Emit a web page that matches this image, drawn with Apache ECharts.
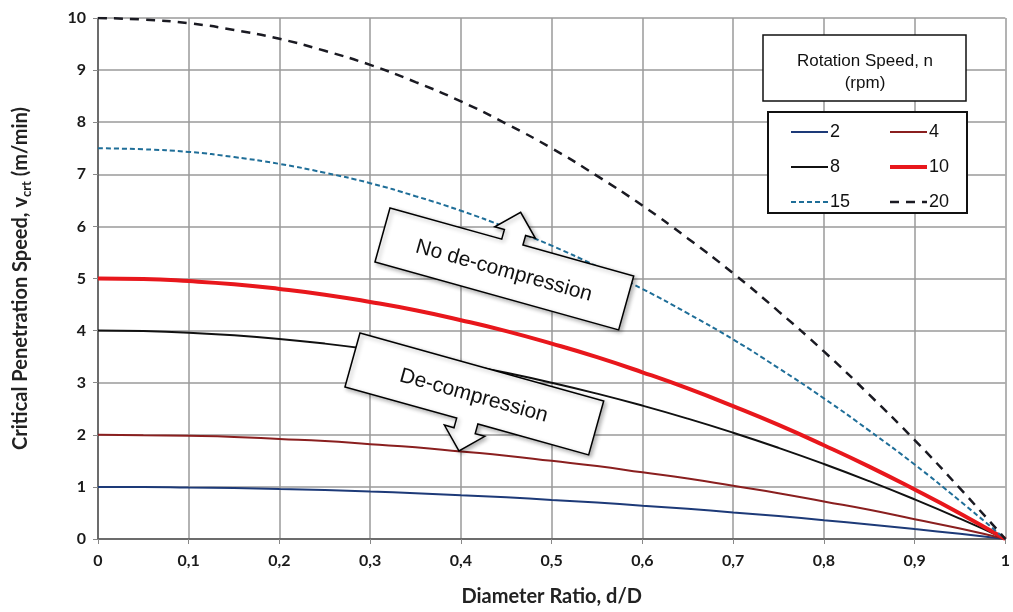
<!DOCTYPE html>
<html>
<head>
<meta charset="utf-8">
<script src="https://cdn.jsdelivr.net/npm/echarts@6/dist/echarts.min.js"></script>
<style>
  html, body { margin: 0; padding: 0; background: #fff; }
  #chart { width: 1013px; height: 612px; }
</style>
</head>
<body>
<div id="chart"></div>
<script>
// Diameter ratio d/D sampled along the x axis
const ratios = [0, 0.05, 0.1, 0.15, 0.2, 0.25, 0.3, 0.35, 0.4, 0.45, 0.5,
                0.55, 0.6, 0.65, 0.7, 0.75, 0.8, 0.85, 0.9, 0.95, 1];

// Critical penetration speed (m/min) for each rotation speed n (rpm)
const speedN2  = [1.00, 1.00, 0.99, 0.98, 0.96, 0.94, 0.91, 0.88, 0.84, 0.80, 0.75,
                  0.70, 0.64, 0.58, 0.51, 0.44, 0.36, 0.28, 0.19, 0.10, 0];
const speedN4  = [2.00, 1.99, 1.98, 1.96, 1.92, 1.88, 1.82, 1.76, 1.68, 1.60, 1.50,
                  1.40, 1.28, 1.16, 1.02, 0.88, 0.72, 0.56, 0.38, 0.20, 0];
const speedN8  = [4.00, 3.99, 3.96, 3.91, 3.84, 3.75, 3.64, 3.51, 3.36, 3.19, 3.00,
                  2.79, 2.56, 2.31, 2.04, 1.75, 1.44, 1.11, 0.76, 0.39, 0];
const speedN10 = [5.00, 4.99, 4.95, 4.89, 4.80, 4.69, 4.55, 4.39, 4.20, 3.99, 3.75,
                  3.49, 3.20, 2.89, 2.55, 2.19, 1.80, 1.39, 0.95, 0.49, 0];
const speedN15 = [7.50, 7.48, 7.43, 7.33, 7.20, 7.03, 6.83, 6.58, 6.30, 5.98, 5.63,
                  5.23, 4.80, 4.33, 3.83, 3.28, 2.70, 2.08, 1.43, 0.73, 0];
const speedN20 = [10.00, 9.97, 9.90, 9.77, 9.60, 9.37, 9.10, 8.77, 8.40, 7.97, 7.50,
                  6.97, 6.40, 5.77, 5.10, 4.37, 3.60, 2.77, 1.90, 0.97, 0];

const seriesNames = ['2', '4', '8', '10', '15', '20'];
const legendTitle = ['Rotation Speed, n', '(rpm)'];
const calloutUp = 'No de-compression';
const calloutDown = 'De-compression';

const pair = (ys) => ratios.map((x, i) => [x, ys[i]]);

const chart = echarts.init(document.getElementById('chart'), null, { renderer: 'canvas' });

const boldFont = 'Lato, "Open Sans", sans-serif';
const plainFont = '"Liberation Sans", Arial, sans-serif';

const styles = {
  '2':  { color: '#1d3a78', width: 2 },
  '4':  { color: '#8a1f1f', width: 2 },
  '8':  { color: '#111111', width: 2 },
  '10': { color: '#e8171c', width: 4 },
  '15': { color: '#1f6e98', width: 2, type: [5, 3] },
  '20': { color: '#1a1a22', width: 2.5, type: [9, 7] }
};

function lineSeries(name, data) {
  const s = styles[name];
  return {
    name: name,
    type: 'line',
    data: pair(data),
    smooth: true,
    showSymbol: false,
    symbol: 'none',
    lineStyle: { color: s.color, width: s.width, type: s.type || 'solid' },
    itemStyle: { color: s.color },
    z: 3
  };
}

// Callout box: rectangle with an arrow on its top or bottom edge
const W = 253, H = 56;
const arrowTop = [[0,0],[116,0],[116,-10],[106,-10],[127,-31],[148,-10],[138,-10],[138,0],[W,0],[W,H],[0,H]];
const arrowBottom = [[0,0],[W,0],[W,H],[138,H],[138,H+10],[148,H+10],[127,H+31],[106,H+10],[116,H+10],[116,H],[0,H]];

function callout(x, y, points, text) {
  return {
    type: 'group',
    x: x, y: y,
    rotation: -0.272,
    z: 10,
    children: [
      {
        type: 'polygon',
        shape: { points: points },
        style: {
          fill: '#fff', stroke: '#000', lineWidth: 1.5,
          shadowBlur: 4, shadowOffsetX: 2, shadowOffsetY: 2, shadowColor: 'rgba(0,0,0,0.3)'
        },
        z: 10
      },
      {
        type: 'text',
        x: W / 2, y: H / 2 + 2,
        style: {
          text: text, fill: '#111',
          font: '21px "Liberation Sans", Arial, sans-serif',
          textAlign: 'center', textVerticalAlign: 'middle'
        },
        z: 11
      }
    ]
  };
}

function legendColumn(names, left) {
  return {
    data: names.map((n) => ({
      name: n,
      lineStyle: { color: styles[n].color, width: styles[n].width, type: styles[n].type || 'solid' }
    })),
    orient: 'vertical',
    left: left, top: 123,
    padding: 0,
    itemWidth: 37, itemHeight: 14, itemGap: 17,
    selectedMode: false,
    itemStyle: { opacity: 0 },
    textStyle: { fontFamily: plainFont, fontSize: 18, color: '#111', padding: [0, 0, 0, -3] }
  };
}

const option = {
  backgroundColor: '#fff',
  animation: false,
  grid: { left: 98, right: 3, top: 18, bottom: 68, containLabel: false },
  xAxis: {
    type: 'value',
    min: 0, max: 1, interval: 0.1,
    name: 'Diameter Ratio, d/D',
    nameLocation: 'middle',
    nameGap: 48,
    nameTextStyle: { fontFamily: boldFont, fontWeight: 'bold', fontSize: 20, color: '#222' },
    axisLine: { show: true, onZero: false, lineStyle: { color: '#555', width: 1.5 } },
    axisTick: { show: true, length: 5, lineStyle: { color: '#888' } },
    axisLabel: {
      margin: 14,
      fontFamily: boldFont, fontWeight: 'bold', fontSize: 16, color: '#1a1a1a',
      formatter: (v) => (Math.round(v * 10) / 10).toString().replace('.', ',')
    },
    splitLine: { show: true, lineStyle: { color: '#9a9a9a', width: 1.5 } }
  },
  yAxis: {
    type: 'value',
    min: 0, max: 10, interval: 1,
    name: '{a|Critical Penetration Speed, v}{s|crt}{a| (m/min)}',
    nameLocation: 'middle',
    nameGap: 65,
    nameRotate: 90,
    nameTextStyle: {
      rich: {
        a: { fontFamily: boldFont, fontWeight: 'bold', fontSize: 20, color: '#222', lineHeight: 24 },
        s: { fontFamily: boldFont, fontWeight: 'bold', fontSize: 13, color: '#222', verticalAlign: 'bottom', lineHeight: 24, padding: [7, 0, 0, 0] }
      }
    },
    axisLine: { show: true, lineStyle: { color: '#555', width: 1.5 } },
    axisTick: { show: true, length: 5, lineStyle: { color: '#888' } },
    axisLabel: { margin: 12, fontFamily: boldFont, fontWeight: 'bold', fontSize: 16, color: '#1a1a1a' },
    splitLine: { show: true, lineStyle: { color: '#9a9a9a', width: 1.5 } }
  },
  legend: [
    legendColumn(['2', '8', '15'], 790),
    legendColumn(['4', '10', '20'], 888)
  ],
  series: [
    lineSeries(seriesNames[0], speedN2),
    lineSeries(seriesNames[1], speedN4),
    lineSeries(seriesNames[2], speedN8),
    lineSeries(seriesNames[3], speedN10),
    lineSeries(seriesNames[4], speedN15),
    lineSeries(seriesNames[5], speedN20)
  ],
  graphic: [
    {
      type: 'rect',
      shape: { x: 763, y: 35, width: 203, height: 66 },
      style: { fill: '#fff', stroke: '#111', lineWidth: 1.5 },
      z: 5
    },
    {
      type: 'text',
      x: 865, y: 61,
      style: {
        text: legendTitle[0], fill: '#111',
        font: '17px "Liberation Sans", Arial, sans-serif',
        textAlign: 'center', textVerticalAlign: 'middle'
      },
      z: 6
    },
    {
      type: 'text',
      x: 865, y: 83,
      style: {
        text: legendTitle[1], fill: '#111',
        font: '17px "Liberation Sans", Arial, sans-serif',
        textAlign: 'center', textVerticalAlign: 'middle'
      },
      z: 6
    },
    {
      type: 'rect',
      shape: { x: 768, y: 112, width: 199, height: 101 },
      style: { fill: '#fff', stroke: '#111', lineWidth: 2 },
      z: 1
    },
    callout(390, 208, arrowTop, calloutUp),
    callout(360, 333, arrowBottom, calloutDown)
  ]
};

chart.setOption(option);
</script>
</body>
</html>
